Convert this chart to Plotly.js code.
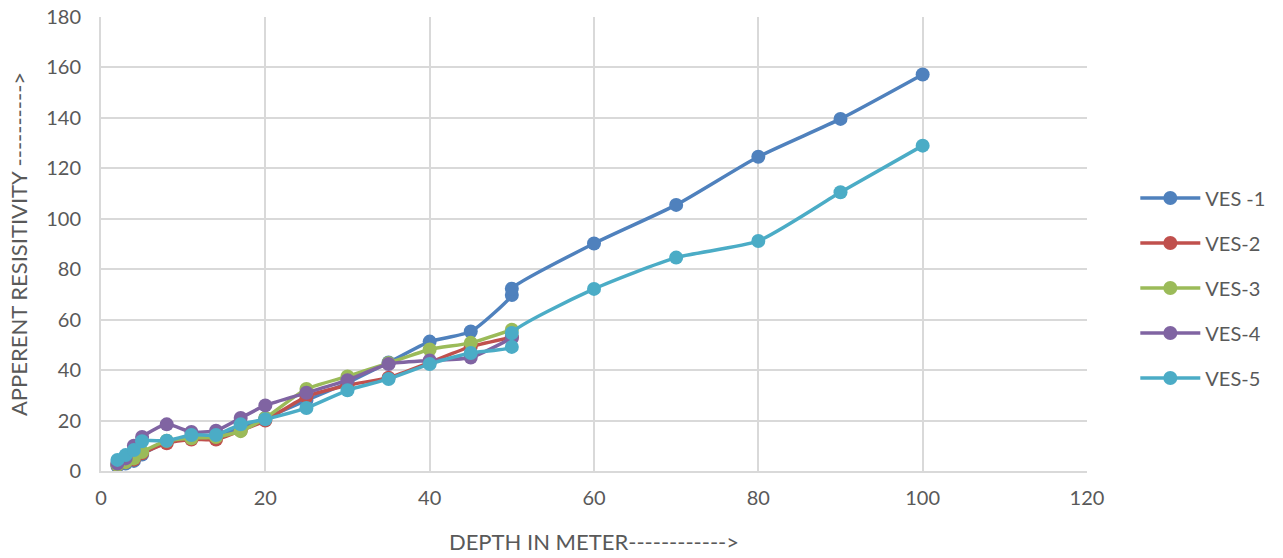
<!DOCTYPE html>
<html>
<head>
<meta charset="utf-8">
<script src="https://cdn.plot.ly/plotly-3.0.1.min.js"></script>
<style>
html,body{margin:0;padding:0;background:#fff;}
#chart{width:1283px;height:558px;}
</style>
</head>
<body>
<div id="chart"></div>
<script>
// Depths (m)
const depthShort = [2, 3, 4, 5, 8, 11, 14, 17, 20, 25, 30, 35, 40, 45, 50];
const depthLong = [2, 3, 4, 5, 8, 11, 14, 17, 20, 25, 30, 35, 40, 45, 50, 50, 60, 70, 80, 90, 100];

// Apparent resistivity values
const ves1 = [2, 3, 4, 6.5, 11.5, 13, 14, 17, 21, 28, 35, 43, 51.3, 55.3, 69.8, 72.3, 90.2, 105.5, 124.6, 139.6, 157.2];
const ves2 = [2.5, 3.5, 4.5, 7, 11, 12.5, 12.5, 16, 20, 29.5, 34, 37, 43, 49.3, 53];
const ves3 = [2.5, 3.5, 5, 7.5, 12, 13, 13.5, 15.8, 21, 32.5, 37.5, 42.8, 48.2, 50.8, 56];
const ves4 = [3, 5, 10, 13.5, 18.5, 15.5, 16, 21, 26, 31, 36, 42.4, 43.8, 45, 52.7];
const ves5 = [4.4, 6.3, 8.3, 11.8, 12, 14.3, 14.3, 18.5, 20.5, 25, 32, 36.5, 42.4, 46.8, 49.2, 54.7, 72.2, 84.6, 91.2, 110.5, 129];

const seriesNames = ["VES -1", "VES-2", "VES-3", "VES-4", "VES-5"];
const seriesX = [depthLong, depthShort, depthShort, depthShort, depthLong];
const seriesY = [ves1, ves2, ves3, ves4, ves5];
const colors = ["#4F81BD", "#C0504D", "#9BBB59", "#8064A2", "#4BACC6"];

const traces = seriesNames.map((n, i) => ({
  type: "scatter",
  mode: "lines+markers",
  name: n,
  legendgroup: "g" + i,
  x: seriesX[i],
  y: seriesY[i],
  line: {color: colors[i], width: 3.5, shape: "spline", smoothing: 0.6},
  marker: {color: colors[i], size: 14}
}));

const font = "Lato, 'Open Sans', sans-serif";
const layout = {
  width: 1283,
  height: 558,
  margin: {l: 101, r: 196, t: 17, b: 87, autoexpand: false},
  paper_bgcolor: "#fff",
  plot_bgcolor: "#fff",
  font: {family: font, size: 20, color: "#595959"},
  showlegend: true,
  legend: {
    x: 1.049, y: 0.403, xanchor: "left", yanchor: "middle",
    font: {family: font, size: 20, color: "#595959"},
    traceorder: "grouped",
    tracegroupgap: 16,
    itemwidth: 60
  },
  xaxis: {
    range: [0, 120],
    dtick: 20,
    tick0: 0,
    showgrid: true,
    gridcolor: "#d9d9d9",
    gridwidth: 2,
    zeroline: false,
    showline: true,
    linecolor: "#d9d9d9",
    linewidth: 2,
    ticks: "",
    ticklabelstandoff: 8,
    tickfont: {family: font, size: 20, color: "#595959"},
    title: {text: "DEPTH IN METER------------>", font: {family: font, size: 22, color: "#595959"}, standoff: 27}
  },
  yaxis: {
    range: [0, 180],
    dtick: 20,
    tick0: 0,
    showgrid: true,
    gridcolor: "#d9d9d9",
    gridwidth: 2,
    zeroline: false,
    showline: true,
    linecolor: "#d9d9d9",
    linewidth: 2,
    ticks: "",
    ticklabelstandoff: 14,
    tickfont: {family: font, size: 20, color: "#595959"},
    title: {text: "APPERENT RESISITIVITY ---------->", font: {family: font, size: 22, color: "#595959"}, standoff: 12}
  }
};

Plotly.newPlot("chart", traces, layout, {displayModeBar: false, staticPlot: true});
</script>
</body>
</html>
